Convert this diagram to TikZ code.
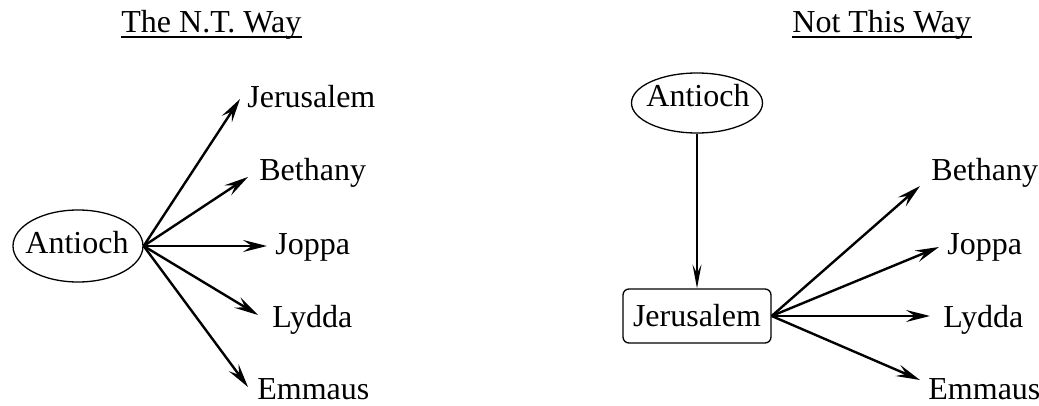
\documentclass[tikz,border=0pt]{standalone}
\usepackage{fontspec}
\setmainfont{Liberation Serif}
\usetikzlibrary{arrows.meta,shapes.geometric}
\begin{document}
\begin{tikzpicture}[x=0.5pt,y=-0.5pt,
  lbl/.style={inner sep=0pt, anchor=base west, font=\fontsize{16pt}{19pt}\selectfont},
  oval/.style={draw, ellipse, line width=0.65pt, inner sep=0pt},
  rbox/.style={draw, rectangle, rounded corners=3pt, line width=0.65pt, inner sep=0pt,
    minimum width=74pt, minimum height=27pt, font=\fontsize{16pt}{19pt}\selectfont},
  bigarrow/.style={line width=1.2pt, -{Stealth[length=12pt,width=6pt,inset=4.5pt]}},
  smallarrow/.style={line width=0.8pt, -{Stealth[length=12pt,width=4.5pt,inset=4.5pt]}},
  uline/.style={line width=0.6pt}]
\useasboundingbox (0,0) rectangle (1039,406);

% titles
\node[lbl] (t1) at (121,33) {The N.T. Way};
\draw[uline] ([yshift=-2pt]t1.base west) -- ([yshift=-2pt]t1.base east);
\node[lbl] (t2) at (792,33) {Not This Way};
\draw[uline] ([yshift=-2pt]t2.base west) -- ([yshift=-2pt]t2.base east);

% left diagram
\node[oval, minimum width=65pt, minimum height=36pt] (antL) at (78,246) {};
\node[lbl] (antLt) at (25,254) {Antioch};
\node[lbl] (jerL) at (247,108) {Jerusalem};
\node[lbl] (betL) at (259,181) {Bethany};
\node[lbl] (jopL) at (275,255) {Joppa};
\node[lbl] (lydL) at (272,328) {Lydda};
\node[lbl] (emmL) at (257,400) {Emmaus};
\coordinate (cjerL) at (240,99);
\coordinate (cbetL) at (248,177);
\coordinate (cjopL) at (267,246);
\coordinate (clydL) at (258,315);
\coordinate (cemmL) at (248,387);
\draw[bigarrow] (antL.east) -- (cjerL);
\draw[bigarrow] (antL.east) -- (cbetL);
\draw[bigarrow] (antL.east) -- (cjopL);
\draw[bigarrow] (antL.east) -- (clydL);
\draw[bigarrow] (antL.east) -- (cemmL);

% right diagram
\node[oval, minimum width=65.5pt, minimum height=30pt] (antR) at (697,103) {};
\node[lbl] (antRt) at (646,107) {Antioch};
\node[rbox] (jerR) at (697,316) {Jerusalem};
\node[lbl] (betR) at (931,181) {Bethany};
\node[lbl] (jopR) at (947,255) {Joppa};
\node[lbl] (lydR) at (943,328) {Lydda};
\node[lbl] (emmR) at (928,400) {Emmaus};
\coordinate (cbetR) at (920,186);
\coordinate (cjopR) at (939,247);
\coordinate (clydR) at (930,316);
\coordinate (cemmR) at (920,380);
\draw[smallarrow] (antR.south) -- (jerR.north);
\draw[bigarrow] (jerR.east) -- (cbetR);
\draw[bigarrow] (jerR.east) -- (cjopR);
\draw[bigarrow] (jerR.east) -- (clydR);
\draw[bigarrow] (jerR.east) -- (cemmR);
\end{tikzpicture}
\end{document}
